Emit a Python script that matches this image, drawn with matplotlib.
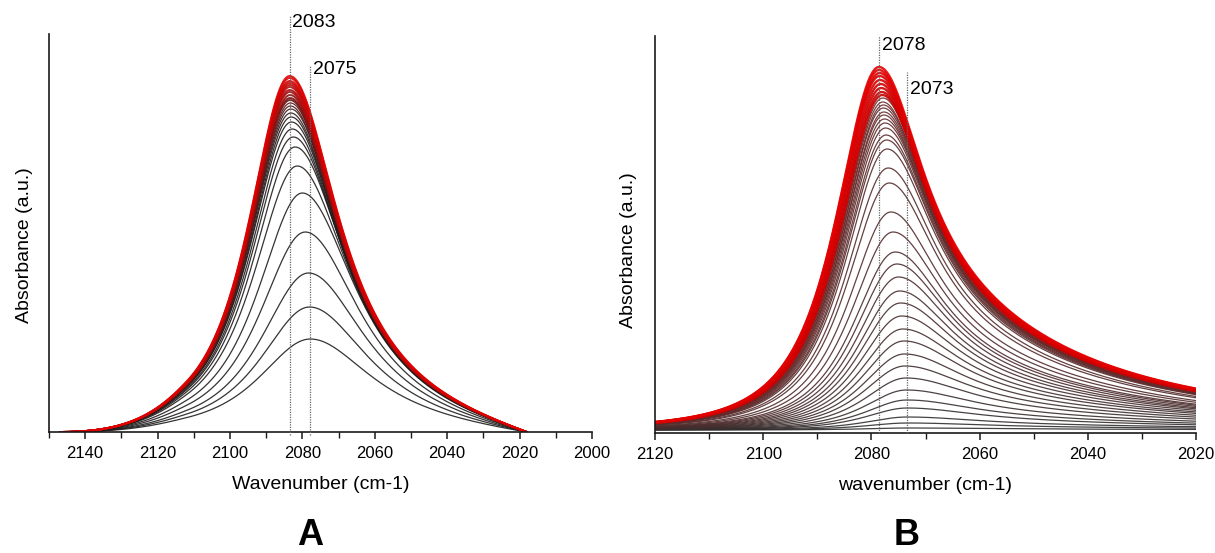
import numpy as np
import matplotlib
matplotlib.use("Agg")
import matplotlib.pyplot as plt
from matplotlib.colors import LinearSegmentedColormap
from matplotlib.ticker import MultipleLocator

plt.rcParams['font.family'] = ['Liberation Sans', 'DejaVu Sans']

# ---------------- data ----------------
# Panel A: peak heights (a.u.), peak positions (cm-1), relative band widths
A_heights = [0.093, 0.125, 0.159, 0.200, 0.239, 0.266, 0.285, 0.295, 0.303, 0.310,
             0.315, 0.319, 0.323, 0.326, 0.329, 0.332, 0.334, 0.337, 0.340, 0.342,
             0.345, 0.347, 0.349, 0.351, 0.354, 0.356]
A_centers = [2077.8, 2078.0, 2078.3, 2079.2, 2080.0, 2081.4, 2082.0, 2082.5, 2082.8, 2083.0,
             2083.1, 2083.2, 2083.2, 2083.3, 2083.3, 2083.4, 2083.4, 2083.4, 2083.5, 2083.5,
             2083.5, 2083.5, 2083.5, 2083.5, 2083.5, 2083.5]
A_width = [1.25, 1.20, 1.16, 1.12, 1.09, 1.07, 1.05, 1.04, 1.03, 1.03,
           1.02, 1.02, 1.02, 1.01, 1.01, 1.01, 1.01, 1.0, 1.0, 1.0,
           1.0, 1.0, 1.0, 1.0, 1.0, 1.0]

# Panel B
B_heights = [0.002, 0.007, 0.013, 0.022, 0.030, 0.040, 0.052, 0.064, 0.076, 0.089,
             0.101, 0.114, 0.127, 0.139, 0.153, 0.166, 0.178, 0.198, 0.218, 0.247,
             0.262, 0.281, 0.290, 0.295, 0.302, 0.307, 0.311, 0.315, 0.318, 0.322,
             0.325, 0.328, 0.332, 0.335, 0.338, 0.342, 0.346, 0.350, 0.354, 0.357,
             0.360, 0.363]
B_centers = [2073.2, 2073.3, 2073.4, 2073.4, 2073.4, 2073.5, 2073.6, 2073.8, 2073.9, 2074.0,
             2074.2, 2074.4, 2074.6, 2074.8, 2075.0, 2075.3, 2075.6, 2076.0, 2076.4, 2076.7,
             2076.9, 2077.1, 2077.2, 2077.3, 2077.4, 2077.5, 2077.6, 2077.7, 2077.7, 2077.8,
             2077.8, 2077.9, 2077.9, 2078.0, 2078.1, 2078.2, 2078.3, 2078.4, 2078.5, 2078.5,
             2078.6, 2078.6]
B_width = [1.9, 1.8, 1.7, 1.6, 1.55, 1.5, 1.45, 1.4, 1.36, 1.32,
           1.28, 1.25, 1.22, 1.19, 1.16, 1.14, 1.12, 1.10, 1.08, 1.06,
           1.05, 1.04, 1.03, 1.03, 1.02, 1.02, 1.02, 1.01, 1.01, 1.01,
           1.0, 1.0, 1.0, 1.0, 1.0, 1.0, 1.0, 1.0, 1.0, 1.0,
           1.0, 1.0]

A_marks = [2083.5, 2077.8]
A_mark_labels = ['2083', '2075']
A_mark_tops = [0.417, 0.367]
A_label_y = [0.4095, 0.3625]

B_marks = [2078.6, 2073.4]
B_mark_labels = ['2078', '2073']
B_mark_tops = [0.394, 0.358]
B_label_y = [0.3845, 0.3405]

# ---------------- band shapes ----------------


def smooth(t):
    t = np.clip(t, 0, 1)
    return t * t * (3 - 2 * t)


def shape_A(x, c, f):
    d = (x - c) / f
    yl = (1 + (d / 17.4) ** 2) ** -1.5
    yr = 1 / (1 + (d / 16.8) ** 2)
    y = np.where(d > 0, yl, yr)
    u = np.clip((2083 - x) / 65, 0, 1)
    return y * smooth((2147 - x) / 35) * (1 - u ** 4)


def shape_B(x, c, f):
    d = x - c
    yl = (1 + (d / 12.1) ** 2) ** -1.5
    dr = np.abs(d) / f
    yr = 0.68 / (1 + (dr / 10) ** 2) + 0.32 / (1 + (dr / 38) ** 2)
    return np.where(d > 0, yl, yr)


# ---------------- figure ----------------
fig = plt.figure(figsize=(12.15, 5.53), dpi=100)
axA = fig.add_axes([0.0403, 0.2188, 0.4469, 0.7197])
axB = fig.add_axes([0.5391, 0.2170, 0.4453, 0.7179])

cmapA = LinearSegmentedColormap.from_list(
    'a', [(0, '#1e1e1e'), (0.4, '#221a1a'), (0.56, '#5a1818'), (0.75, '#b00a0a'),
          (1, '#e00000')])
cmapB = LinearSegmentedColormap.from_list(
    'b', [(0, '#2e2e2e'), (0.78, '#6e2a2a'), (0.81, '#c80000'), (1, '#e40000')])

xA = np.linspace(2147, 2018, 1200)
nA = len(A_heights)
for i, (h, c, f) in enumerate(zip(A_heights, A_centers, A_width)):
    t = i / (nA - 1)
    lw = 0.9 if t < 0.6 else 1.4
    axA.plot(xA, h * shape_A(xA, c, f), color=cmapA(t), lw=lw, alpha=0.9,
             solid_capstyle='round')

xB = np.linspace(2120, 2020, 1200)
nB = len(B_heights)
for i, (h, c, f) in enumerate(zip(B_heights, B_centers, B_width)):
    t = i / (nB - 1)
    lw = 0.9 if t < 0.8 else 1.7
    axB.plot(xB, h * shape_B(xB, c, f), color=cmapB(t), lw=lw, alpha=0.9)

for ax, marks, labs, tops, ly in [(axA, A_marks, A_mark_labels, A_mark_tops, A_label_y),
                                   (axB, B_marks, B_mark_labels, B_mark_tops, B_label_y)]:
    for m, lab, top, y in zip(marks, labs, tops, ly):
        ax.plot([m, m], [-0.003, top], color='#666666',
                lw=0.9, ls=(0, (1, 1)), zorder=5, clip_on=False)
        ax.annotate(lab, xy=(m, y), xytext=(2, 0), textcoords='offset points',
                    ha='left', va='center', fontsize=14, annotation_clip=False)

axA.set_xlim(2150, 2000)
axA.set_ylim(0, 0.398)
axB.set_xlim(2120, 2020)
axB.set_ylim(-0.003, 0.394)

for ax in (axA, axB):
    for s in ('top', 'right'):
        ax.spines[s].set_visible(False)
    for s in ('left', 'bottom'):
        ax.spines[s].set_linewidth(1.2)
        ax.spines[s].set_color('#1a1a1a')
    ax.set_yticks([])
    ax.xaxis.set_major_locator(MultipleLocator(20))
    ax.xaxis.set_minor_locator(MultipleLocator(10))
    ax.tick_params(axis='x', which='major', direction='out', length=5, width=1.1,
                   labelsize=12, pad=5, color='#1a1a1a')
    ax.tick_params(axis='x', which='minor', direction='out', length=4, width=1.0,
                   color='#1a1a1a')
    ax.set_ylabel('Absorbance (a.u.)', fontsize=14)

axA.set_xlabel('Wavenumber (cm-1)', fontsize=14, labelpad=11)
axB.set_xlabel('wavenumber (cm-1)', fontsize=14, labelpad=11)
axA.yaxis.set_label_coords(-0.030, 0.47)
axB.yaxis.set_label_coords(-0.033, 0.46)

fig.text(310 / 1215, 1 - 518 / 553, 'A', fontsize=26, fontweight='bold',
         ha='center', va='top')
fig.text(907 / 1215, 1 - 518 / 553, 'B', fontsize=26, fontweight='bold',
         ha='center', va='top')

fig.savefig('out.png', dpi=100)
